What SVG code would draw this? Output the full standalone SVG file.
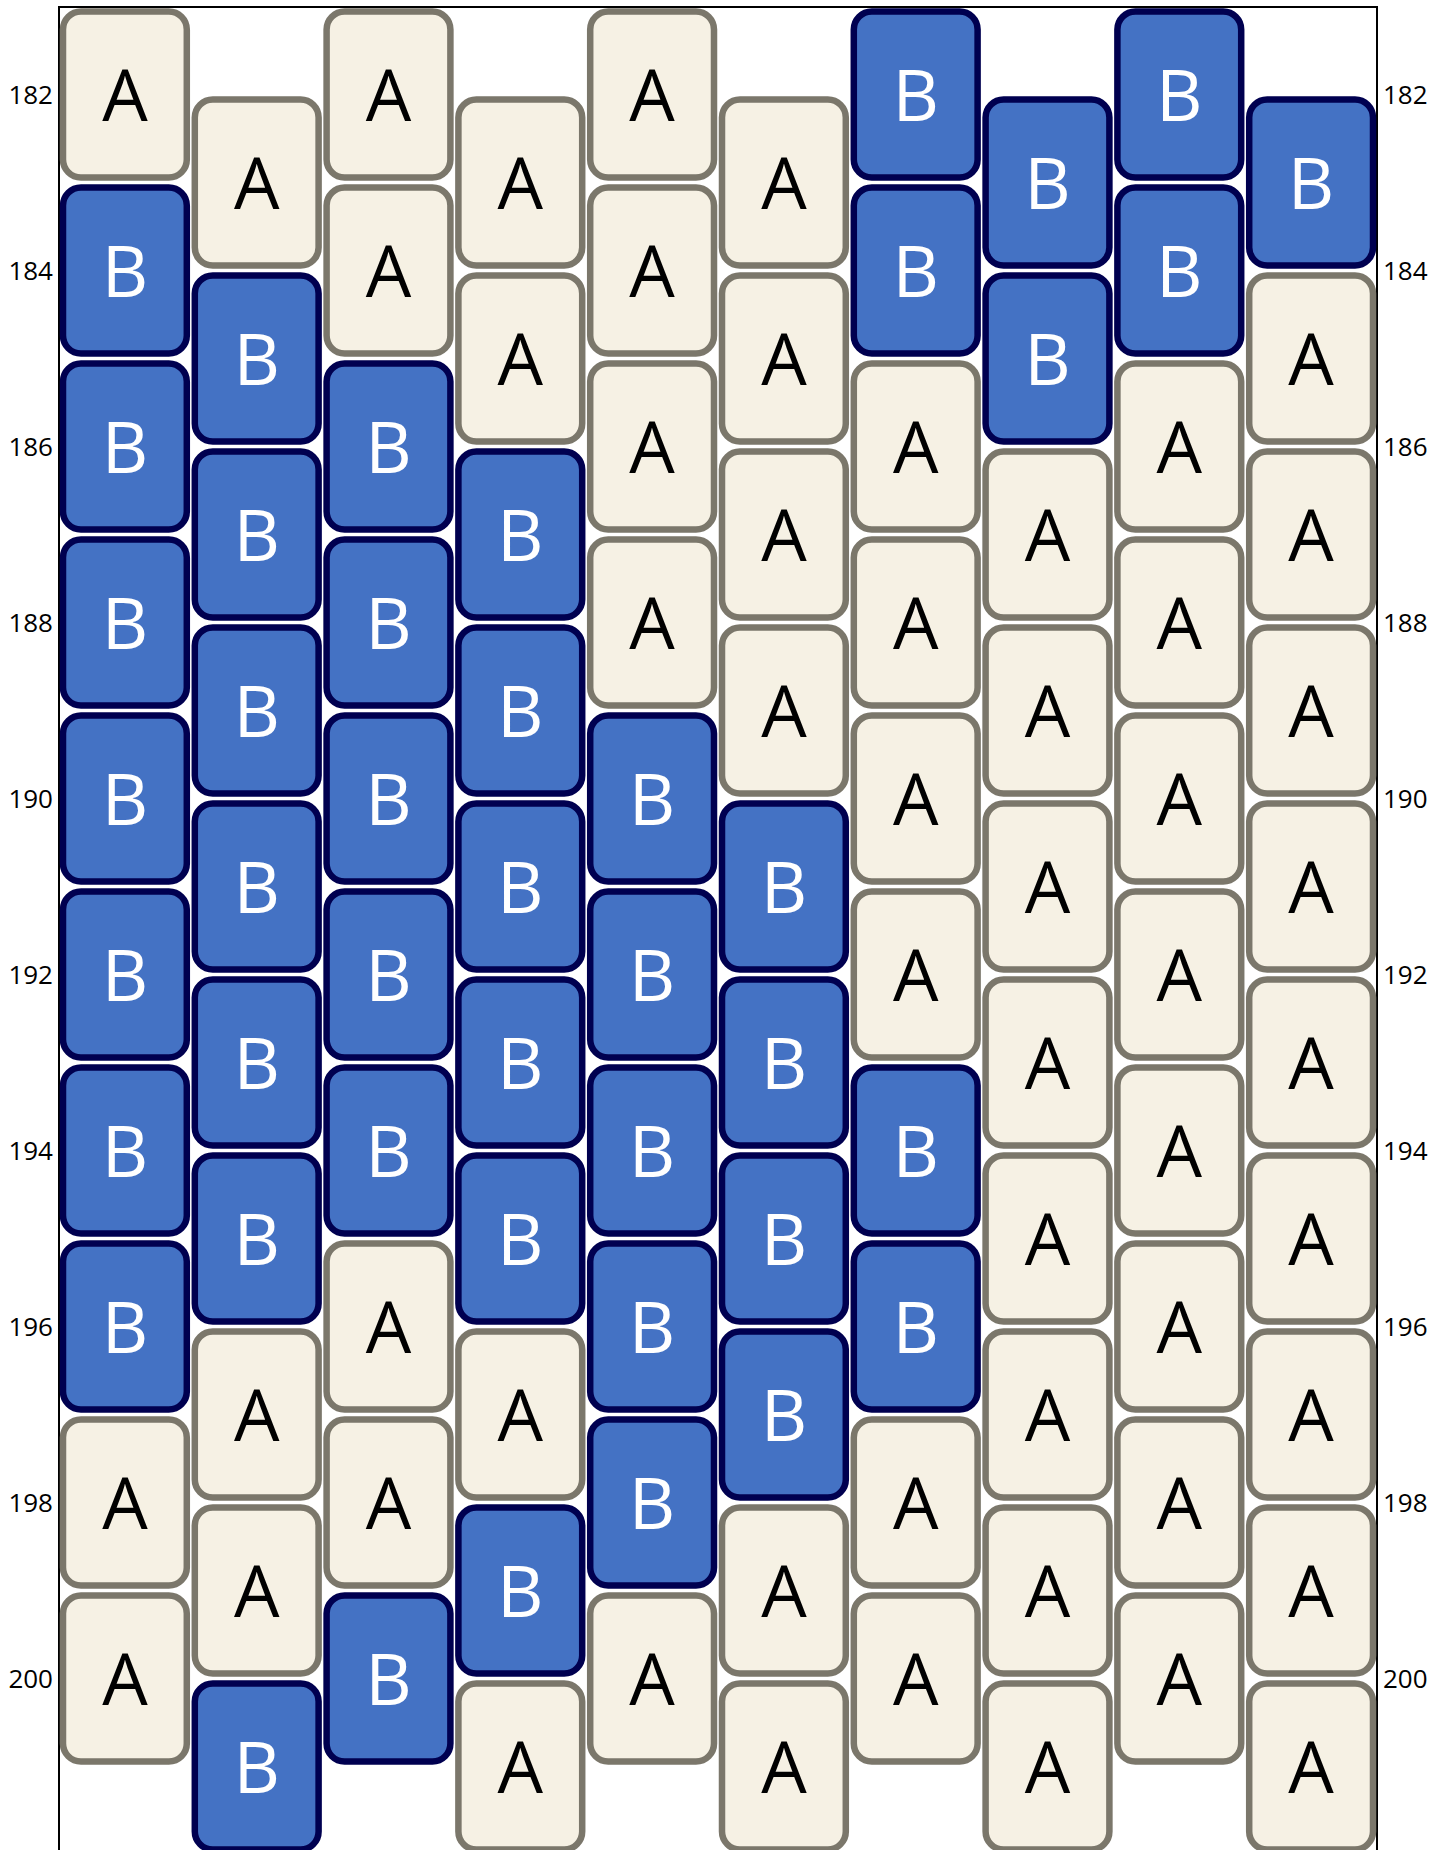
<svg xmlns="http://www.w3.org/2000/svg" width="1447" height="1850" viewBox="0 0 1447 1850">
<style>
.a rect{fill:#F6F1E4;stroke:#7B776B;stroke-width:6.5}
.b rect{fill:#4472C4;stroke:#000050;stroke-width:6.5}
.t rect{rx:18px;ry:18px;width:123.8px;height:166px}
.t text{font-family:"Open Sans","Noto Sans","DejaVu Sans",sans-serif;font-size:72px;text-anchor:middle}
.a text{fill:#000}
.b text{fill:#fff}
.ax{font-family:"Open Sans","Noto Sans","DejaVu Sans",sans-serif;font-size:26px;fill:#000}
.l{text-anchor:end}
.r{text-anchor:start}
</style>
<rect width="1447" height="1850" fill="#fff"/>
<rect id="frame" x="59" y="7" width="1318" height="1900" fill="none" stroke="#000" stroke-width="2"/>
<g id="axis-left" class="ax l">
<text x="53" y="104">182</text><text x="53" y="280">184</text><text x="53" y="456">186</text><text x="53" y="632">188</text><text x="53" y="808">190</text><text x="53" y="984">192</text><text x="53" y="1160">194</text><text x="53" y="1336">196</text><text x="53" y="1512">198</text><text x="53" y="1688">200</text>
</g>
<g id="axis-right" class="ax r">
<text x="1383" y="104">182</text><text x="1383" y="280">184</text><text x="1383" y="456">186</text><text x="1383" y="632">188</text><text x="1383" y="808">190</text><text x="1383" y="984">192</text><text x="1383" y="1160">194</text><text x="1383" y="1336">196</text><text x="1383" y="1512">198</text><text x="1383" y="1688">200</text>
</g>
<g id="connectors"></g>
<!-- column 0 -->
<g id="c0-182" class="t a"><rect x="63" y="11.5"/><text x="124.9" y="120.5">A</text></g>
<g id="c0-184" class="t b"><rect x="63" y="187.5"/><text x="124.9" y="296.5">B</text></g>
<g id="c0-186" class="t b"><rect x="63" y="363.5"/><text x="124.9" y="472.5">B</text></g>
<g id="c0-188" class="t b"><rect x="63" y="539.5"/><text x="124.9" y="648.5">B</text></g>
<g id="c0-190" class="t b"><rect x="63" y="715.5"/><text x="124.9" y="824.5">B</text></g>
<g id="c0-192" class="t b"><rect x="63" y="891.5"/><text x="124.9" y="1000.5">B</text></g>
<g id="c0-194" class="t b"><rect x="63" y="1067.5"/><text x="124.9" y="1176.5">B</text></g>
<g id="c0-196" class="t b"><rect x="63" y="1243.5"/><text x="124.9" y="1352.5">B</text></g>
<g id="c0-198" class="t a"><rect x="63" y="1419.5"/><text x="124.9" y="1528.5">A</text></g>
<g id="c0-200" class="t a"><rect x="63" y="1595.5"/><text x="124.9" y="1704.5">A</text></g>
<!-- column 1 -->
<g id="c1-183" class="t a"><rect x="194.8" y="99.5"/><text x="256.7" y="208.5">A</text></g>
<g id="c1-185" class="t b"><rect x="194.8" y="275.5"/><text x="256.7" y="384.5">B</text></g>
<g id="c1-187" class="t b"><rect x="194.8" y="451.5"/><text x="256.7" y="560.5">B</text></g>
<g id="c1-189" class="t b"><rect x="194.8" y="627.5"/><text x="256.7" y="736.5">B</text></g>
<g id="c1-191" class="t b"><rect x="194.8" y="803.5"/><text x="256.7" y="912.5">B</text></g>
<g id="c1-193" class="t b"><rect x="194.8" y="979.5"/><text x="256.7" y="1088.5">B</text></g>
<g id="c1-195" class="t b"><rect x="194.8" y="1155.5"/><text x="256.7" y="1264.5">B</text></g>
<g id="c1-197" class="t a"><rect x="194.8" y="1331.5"/><text x="256.7" y="1440.5">A</text></g>
<g id="c1-199" class="t a"><rect x="194.8" y="1507.5"/><text x="256.7" y="1616.5">A</text></g>
<g id="c1-201" class="t b"><rect x="194.8" y="1683.5"/><text x="256.7" y="1792.5">B</text></g>
<!-- column 2 -->
<g id="c2-182" class="t a"><rect x="326.6" y="11.5"/><text x="388.5" y="120.5">A</text></g>
<g id="c2-184" class="t a"><rect x="326.6" y="187.5"/><text x="388.5" y="296.5">A</text></g>
<g id="c2-186" class="t b"><rect x="326.6" y="363.5"/><text x="388.5" y="472.5">B</text></g>
<g id="c2-188" class="t b"><rect x="326.6" y="539.5"/><text x="388.5" y="648.5">B</text></g>
<g id="c2-190" class="t b"><rect x="326.6" y="715.5"/><text x="388.5" y="824.5">B</text></g>
<g id="c2-192" class="t b"><rect x="326.6" y="891.5"/><text x="388.5" y="1000.5">B</text></g>
<g id="c2-194" class="t b"><rect x="326.6" y="1067.5"/><text x="388.5" y="1176.5">B</text></g>
<g id="c2-196" class="t a"><rect x="326.6" y="1243.5"/><text x="388.5" y="1352.5">A</text></g>
<g id="c2-198" class="t a"><rect x="326.6" y="1419.5"/><text x="388.5" y="1528.5">A</text></g>
<g id="c2-200" class="t b"><rect x="326.6" y="1595.5"/><text x="388.5" y="1704.5">B</text></g>
<!-- column 3 -->
<g id="c3-183" class="t a"><rect x="458.4" y="99.5"/><text x="520.3" y="208.5">A</text></g>
<g id="c3-185" class="t a"><rect x="458.4" y="275.5"/><text x="520.3" y="384.5">A</text></g>
<g id="c3-187" class="t b"><rect x="458.4" y="451.5"/><text x="520.3" y="560.5">B</text></g>
<g id="c3-189" class="t b"><rect x="458.4" y="627.5"/><text x="520.3" y="736.5">B</text></g>
<g id="c3-191" class="t b"><rect x="458.4" y="803.5"/><text x="520.3" y="912.5">B</text></g>
<g id="c3-193" class="t b"><rect x="458.4" y="979.5"/><text x="520.3" y="1088.5">B</text></g>
<g id="c3-195" class="t b"><rect x="458.4" y="1155.5"/><text x="520.3" y="1264.5">B</text></g>
<g id="c3-197" class="t a"><rect x="458.4" y="1331.5"/><text x="520.3" y="1440.5">A</text></g>
<g id="c3-199" class="t b"><rect x="458.4" y="1507.5"/><text x="520.3" y="1616.5">B</text></g>
<g id="c3-201" class="t a"><rect x="458.4" y="1683.5"/><text x="520.3" y="1792.5">A</text></g>
<!-- column 4 -->
<g id="c4-182" class="t a"><rect x="590.2" y="11.5"/><text x="652.1" y="120.5">A</text></g>
<g id="c4-184" class="t a"><rect x="590.2" y="187.5"/><text x="652.1" y="296.5">A</text></g>
<g id="c4-186" class="t a"><rect x="590.2" y="363.5"/><text x="652.1" y="472.5">A</text></g>
<g id="c4-188" class="t a"><rect x="590.2" y="539.5"/><text x="652.1" y="648.5">A</text></g>
<g id="c4-190" class="t b"><rect x="590.2" y="715.5"/><text x="652.1" y="824.5">B</text></g>
<g id="c4-192" class="t b"><rect x="590.2" y="891.5"/><text x="652.1" y="1000.5">B</text></g>
<g id="c4-194" class="t b"><rect x="590.2" y="1067.5"/><text x="652.1" y="1176.5">B</text></g>
<g id="c4-196" class="t b"><rect x="590.2" y="1243.5"/><text x="652.1" y="1352.5">B</text></g>
<g id="c4-198" class="t b"><rect x="590.2" y="1419.5"/><text x="652.1" y="1528.5">B</text></g>
<g id="c4-200" class="t a"><rect x="590.2" y="1595.5"/><text x="652.1" y="1704.5">A</text></g>
<!-- column 5 -->
<g id="c5-183" class="t a"><rect x="722" y="99.5"/><text x="783.9" y="208.5">A</text></g>
<g id="c5-185" class="t a"><rect x="722" y="275.5"/><text x="783.9" y="384.5">A</text></g>
<g id="c5-187" class="t a"><rect x="722" y="451.5"/><text x="783.9" y="560.5">A</text></g>
<g id="c5-189" class="t a"><rect x="722" y="627.5"/><text x="783.9" y="736.5">A</text></g>
<g id="c5-191" class="t b"><rect x="722" y="803.5"/><text x="783.9" y="912.5">B</text></g>
<g id="c5-193" class="t b"><rect x="722" y="979.5"/><text x="783.9" y="1088.5">B</text></g>
<g id="c5-195" class="t b"><rect x="722" y="1155.5"/><text x="783.9" y="1264.5">B</text></g>
<g id="c5-197" class="t b"><rect x="722" y="1331.5"/><text x="783.9" y="1440.5">B</text></g>
<g id="c5-199" class="t a"><rect x="722" y="1507.5"/><text x="783.9" y="1616.5">A</text></g>
<g id="c5-201" class="t a"><rect x="722" y="1683.5"/><text x="783.9" y="1792.5">A</text></g>
<!-- column 6 -->
<g id="c6-182" class="t b"><rect x="853.8" y="11.5"/><text x="915.7" y="120.5">B</text></g>
<g id="c6-184" class="t b"><rect x="853.8" y="187.5"/><text x="915.7" y="296.5">B</text></g>
<g id="c6-186" class="t a"><rect x="853.8" y="363.5"/><text x="915.7" y="472.5">A</text></g>
<g id="c6-188" class="t a"><rect x="853.8" y="539.5"/><text x="915.7" y="648.5">A</text></g>
<g id="c6-190" class="t a"><rect x="853.8" y="715.5"/><text x="915.7" y="824.5">A</text></g>
<g id="c6-192" class="t a"><rect x="853.8" y="891.5"/><text x="915.7" y="1000.5">A</text></g>
<g id="c6-194" class="t b"><rect x="853.8" y="1067.5"/><text x="915.7" y="1176.5">B</text></g>
<g id="c6-196" class="t b"><rect x="853.8" y="1243.5"/><text x="915.7" y="1352.5">B</text></g>
<g id="c6-198" class="t a"><rect x="853.8" y="1419.5"/><text x="915.7" y="1528.5">A</text></g>
<g id="c6-200" class="t a"><rect x="853.8" y="1595.5"/><text x="915.7" y="1704.5">A</text></g>
<!-- column 7 -->
<g id="c7-183" class="t b"><rect x="985.6" y="99.5"/><text x="1047.5" y="208.5">B</text></g>
<g id="c7-185" class="t b"><rect x="985.6" y="275.5"/><text x="1047.5" y="384.5">B</text></g>
<g id="c7-187" class="t a"><rect x="985.6" y="451.5"/><text x="1047.5" y="560.5">A</text></g>
<g id="c7-189" class="t a"><rect x="985.6" y="627.5"/><text x="1047.5" y="736.5">A</text></g>
<g id="c7-191" class="t a"><rect x="985.6" y="803.5"/><text x="1047.5" y="912.5">A</text></g>
<g id="c7-193" class="t a"><rect x="985.6" y="979.5"/><text x="1047.5" y="1088.5">A</text></g>
<g id="c7-195" class="t a"><rect x="985.6" y="1155.5"/><text x="1047.5" y="1264.5">A</text></g>
<g id="c7-197" class="t a"><rect x="985.6" y="1331.5"/><text x="1047.5" y="1440.5">A</text></g>
<g id="c7-199" class="t a"><rect x="985.6" y="1507.5"/><text x="1047.5" y="1616.5">A</text></g>
<g id="c7-201" class="t a"><rect x="985.6" y="1683.5"/><text x="1047.5" y="1792.5">A</text></g>
<!-- column 8 -->
<g id="c8-182" class="t b"><rect x="1117.4" y="11.5"/><text x="1179.3" y="120.5">B</text></g>
<g id="c8-184" class="t b"><rect x="1117.4" y="187.5"/><text x="1179.3" y="296.5">B</text></g>
<g id="c8-186" class="t a"><rect x="1117.4" y="363.5"/><text x="1179.3" y="472.5">A</text></g>
<g id="c8-188" class="t a"><rect x="1117.4" y="539.5"/><text x="1179.3" y="648.5">A</text></g>
<g id="c8-190" class="t a"><rect x="1117.4" y="715.5"/><text x="1179.3" y="824.5">A</text></g>
<g id="c8-192" class="t a"><rect x="1117.4" y="891.5"/><text x="1179.3" y="1000.5">A</text></g>
<g id="c8-194" class="t a"><rect x="1117.4" y="1067.5"/><text x="1179.3" y="1176.5">A</text></g>
<g id="c8-196" class="t a"><rect x="1117.4" y="1243.5"/><text x="1179.3" y="1352.5">A</text></g>
<g id="c8-198" class="t a"><rect x="1117.4" y="1419.5"/><text x="1179.3" y="1528.5">A</text></g>
<g id="c8-200" class="t a"><rect x="1117.4" y="1595.5"/><text x="1179.3" y="1704.5">A</text></g>
<!-- column 9 -->
<g id="c9-183" class="t b"><rect x="1249.2" y="99.5"/><text x="1311.1" y="208.5">B</text></g>
<g id="c9-185" class="t a"><rect x="1249.2" y="275.5"/><text x="1311.1" y="384.5">A</text></g>
<g id="c9-187" class="t a"><rect x="1249.2" y="451.5"/><text x="1311.1" y="560.5">A</text></g>
<g id="c9-189" class="t a"><rect x="1249.2" y="627.5"/><text x="1311.1" y="736.5">A</text></g>
<g id="c9-191" class="t a"><rect x="1249.2" y="803.5"/><text x="1311.1" y="912.5">A</text></g>
<g id="c9-193" class="t a"><rect x="1249.2" y="979.5"/><text x="1311.1" y="1088.5">A</text></g>
<g id="c9-195" class="t a"><rect x="1249.2" y="1155.5"/><text x="1311.1" y="1264.5">A</text></g>
<g id="c9-197" class="t a"><rect x="1249.2" y="1331.5"/><text x="1311.1" y="1440.5">A</text></g>
<g id="c9-199" class="t a"><rect x="1249.2" y="1507.5"/><text x="1311.1" y="1616.5">A</text></g>
<g id="c9-201" class="t a"><rect x="1249.2" y="1683.5"/><text x="1311.1" y="1792.5">A</text></g>
</svg>
